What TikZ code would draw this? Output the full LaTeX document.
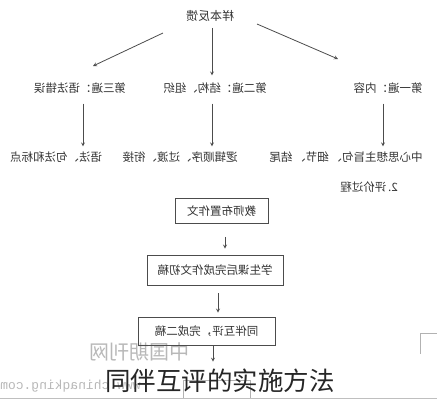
\documentclass[tikz,border=0pt]{standalone}
\usepackage{graphicx}
\usepackage{fontspec}
\setmainfont{Noto Sans CJK SC}
\newfontfamily\wmfont{Liberation Mono}
\usetikzlibrary{arrows}
\usetikzlibrary{positioning}

% scanned page is mirrored
\newcommand{\mirtxt}[1]{\reflectbox{#1}}

\tikzset{
  lbl/.style={inner sep=0pt, text=black!80, font=\fontsize{11.5}{12}\selectfont},
  stepbox/.style={draw=black!70, line width=0.8pt, inner sep=0pt,
    text=black!80, font=\fontsize{11.5}{12}\selectfont},
  arr/.style={->, >=stealth, draw=black!70, line width=0.8pt},
  wm/.style={inner sep=0pt, text=black!28}
}

\begin{document}
\begin{tikzpicture}[x=1pt, y=-1pt]
\useasboundingbox (0,0) rectangle (437,400);

% watermark
\node[wm, font=\fontsize{20}{21}\selectfont] (wmcn) at (139,352) {\mirtxt{中国期刊网}};
\node[wm, anchor=west, font=\wmfont\fontsize{13}{14}\selectfont] (wmurl) at (0,386) {\mirtxt{www.chinaqking.com}};
\node[draw=black!30, line width=0.6pt, minimum width=67pt, minimum height=18pt, inner sep=0pt] (b4) at (216.5,389) {};
\draw[black!30, line width=0.6pt] (437,333) -- (420,333) -- (420,354);
\draw[black!25, line width=0.6pt] (0,398.5) -- (437,398.5);

% feedback tree
\node[lbl, font=\fontsize{12}{13}\selectfont] (fb) at (210,16) {\mirtxt{样本反馈}};
\node[lbl] (p3) at (80,88) {\mirtxt{第三遍：语法错误}};
\node[lbl] (p2) at (215,88) {\mirtxt{第二遍：结构、组织}};
\node[lbl] (p1) at (388,88) {\mirtxt{第一遍：内容}};

\node[lbl] (c3) at (56,157) {\mirtxt{语法、句法和标点}};
\node[lbl] (c2) at (180,157) {\mirtxt{逻辑顺序、过渡、衔接}};
\node[lbl] (c1) at (346,157) {\mirtxt{中心思想主旨句、\,细节、\,结尾}};

\coordinate (fbl) at (163,33);
\coordinate (fbr) at (257,24);
\coordinate (p3in) at (93,66);
\coordinate (p1in) at (338,59);
\draw[arr] (fbl) -- (p3in);
\draw[arr, shorten <=6pt, shorten >=7pt] ([xshift=2pt]fb.south) -- ([xshift=2pt]fb.south |- p2.north);
\draw[arr] (fbr) -- (p1in);

\draw[arr, shorten <=10pt, shorten >=5pt] ([xshift=3pt]p3.south) -- ([xshift=3pt]p3.south |- c3.north);
\draw[arr, shorten <=10pt, shorten >=5pt] ([xshift=-3pt]p2.south) -- ([xshift=-3pt]p2.south |- c2.north);
\draw[arr, shorten <=10pt, shorten >=5pt] ([xshift=-5pt]p1.south) -- ([xshift=-5pt]p1.south |- c1.north);

% evaluation steps
\node[lbl] (ev) at (369,187) {\mirtxt{2.\,评价过程}};

\node[stepbox, minimum width=93pt, minimum height=25pt] (b1) at (221.5,211) {\mirtxt{教师布置作文}};
\node[stepbox, minimum width=136pt, minimum height=30pt] (b2) at (215,270) {\mirtxt{学生课后完成作文初稿}};
\node[stepbox, minimum width=137pt, minimum height=28pt] (b3) at (206.5,331) {\mirtxt{同伴互评，完成二稿}};

\draw[arr, shorten <=13pt, shorten >=6pt] ([xshift=3.5pt]b1.south) -- ([xshift=3.5pt]b1.south |- b2.north);
\draw[arr, shorten <=8pt, shorten >=4pt] ([xshift=3pt]b2.south) -- ([xshift=3pt]b2.south |- b3.north);
\draw[arr, shorten >=18pt] ([xshift=6.5pt]b3.south) -- ([xshift=6.5pt]b3.south |- b4.north);

% caption
\node[inner sep=0pt, text=black!85, font=\fontsize{25.5}{27}\selectfont] (cap) at (220,381) {同伴互评的实施方法};
\end{tikzpicture}
\end{document}
